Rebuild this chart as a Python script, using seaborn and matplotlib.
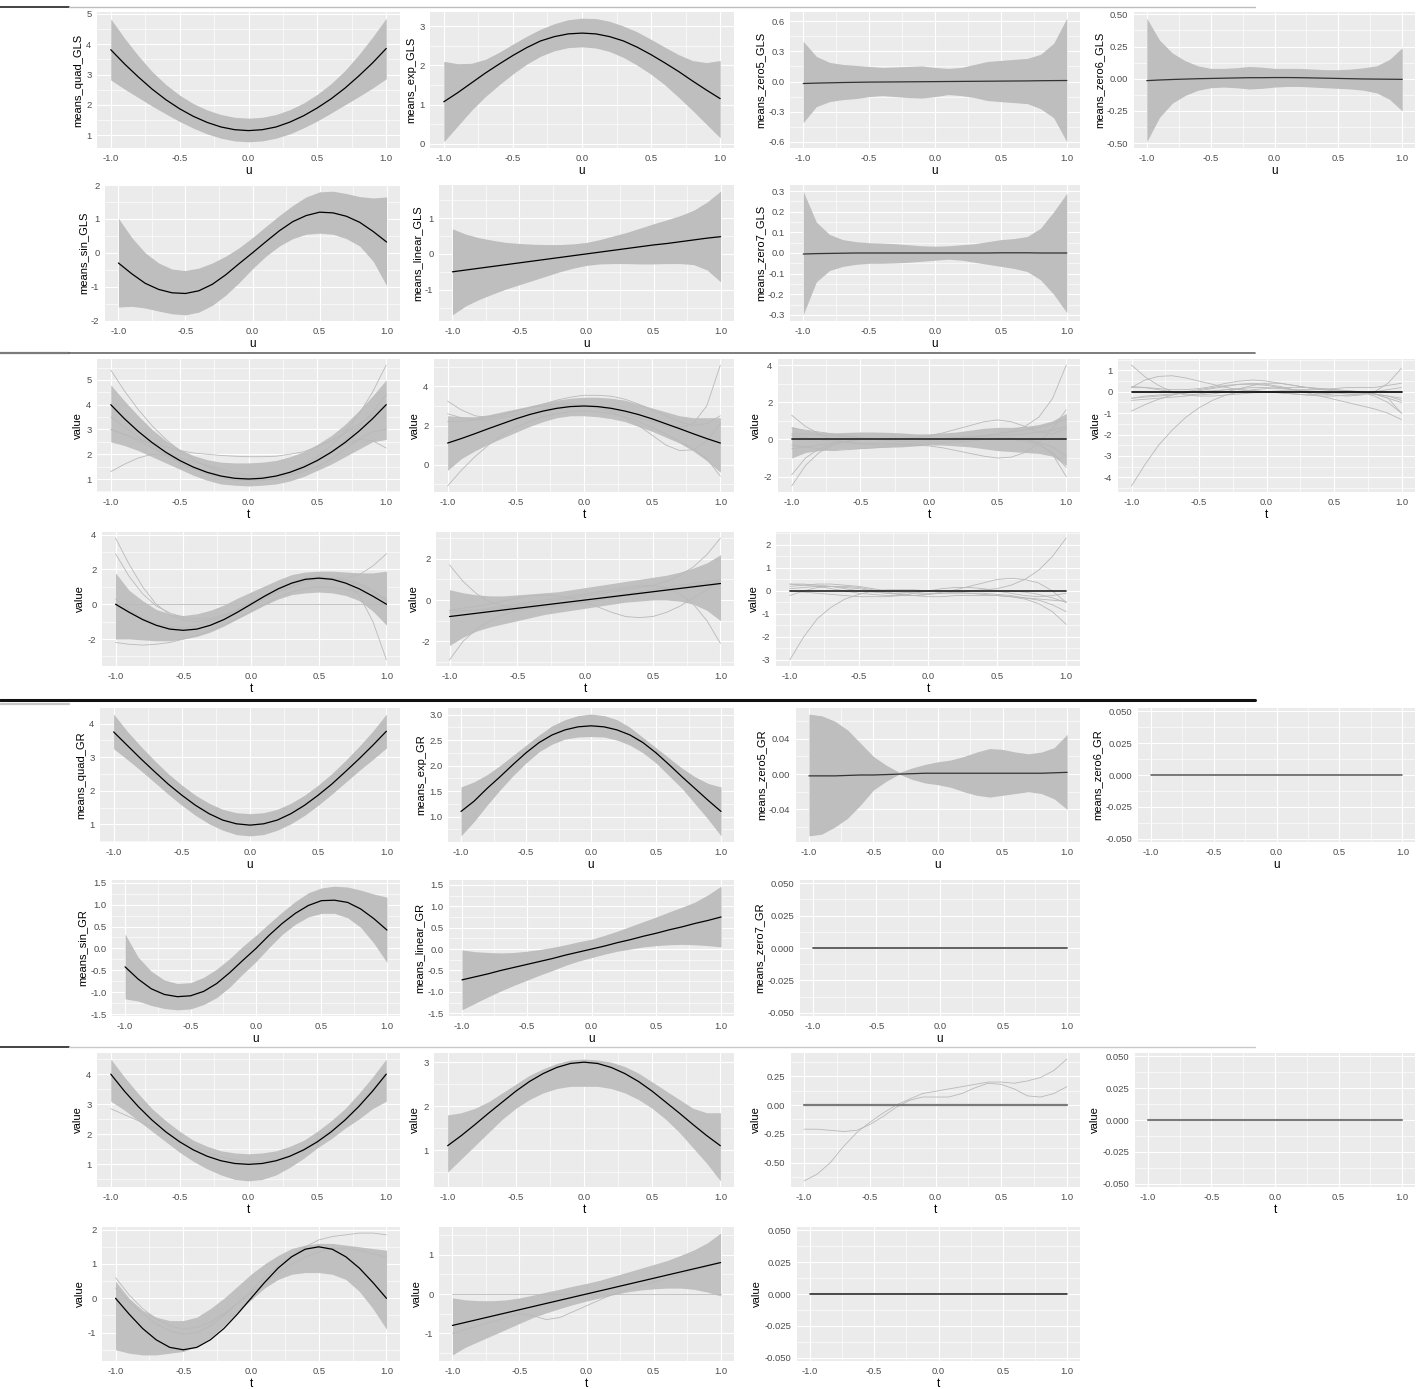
#!/usr/bin/env python3
"""Grid of fitted means (ribbons) and simulated curves, GLS vs GR."""

import numpy as np
import pandas as pd
import matplotlib
matplotlib.use('Agg')
import matplotlib.pyplot as plt
from matplotlib.lines import Line2D
import seaborn as sns

sns.set_theme(style='darkgrid')
plt.rcParams['font.family'] = ['Liberation Sans', 'DejaVu Sans']

W, H = 1417, 1389

# common grid on [-1, 1]
U = [-1.0, -0.9, -0.8, -0.7, -0.6, -0.5, -0.4, -0.3, -0.2, -0.1, 0.0,
     0.1, 0.2, 0.3, 0.4, 0.5, 0.6, 0.7, 0.8, 0.9, 1.0]
x_ticks = [-1.0, -0.5, 0.0, 0.5, 1.0]
x_labels = ['-1.0', '-0.5', '0.0', '0.5', '1.0']

# ---------------- block 1: GLS means with bands ----------------
quad_gls_mean = [3.82, 3.35, 2.92, 2.52, 2.17, 1.87, 1.62, 1.42, 1.27, 1.18, 1.15, 1.18, 1.27, 1.43, 1.64, 1.90, 2.20, 2.55, 2.95, 3.38, 3.86]
quad_gls_hi = [4.84, 4.20, 3.62, 3.10, 2.67, 2.32, 2.04, 1.83, 1.68, 1.59, 1.56, 1.59, 1.68, 1.84, 2.06, 2.35, 2.70, 3.13, 3.65, 4.23, 4.86]
quad_gls_lo = [2.82, 2.52, 2.24, 1.96, 1.70, 1.45, 1.23, 1.04, 0.90, 0.81, 0.78, 0.81, 0.90, 1.04, 1.24, 1.47, 1.73, 2.00, 2.27, 2.55, 2.86]

exp_gls_mean = [1.07, 1.30, 1.55, 1.80, 2.03, 2.25, 2.45, 2.62, 2.73, 2.80, 2.82, 2.80, 2.73, 2.62, 2.46, 2.27, 2.06, 1.84, 1.60, 1.37, 1.15]
exp_gls_hi = [2.10, 2.04, 2.05, 2.15, 2.33, 2.54, 2.74, 2.92, 3.06, 3.16, 3.20, 3.19, 3.12, 3.00, 2.85, 2.66, 2.46, 2.27, 2.12, 2.07, 2.12]
exp_gls_lo = [0.05, 0.45, 0.85, 1.20, 1.50, 1.78, 2.03, 2.23, 2.37, 2.45, 2.47, 2.44, 2.35, 2.20, 2.00, 1.77, 1.50, 1.18, 0.85, 0.50, 0.15]

zero5_gls_mean = [-0.020, -0.016, -0.013, -0.010, -0.008, -0.006, -0.005, -0.004, -0.003, -0.002, -0.001, 0.0, 0.001, 0.002, 0.003, 0.004, 0.005, 0.006, 0.008, 0.009, 0.010]
zero5_gls_hi = [0.40, 0.25, 0.19, 0.17, 0.16, 0.15, 0.14, 0.145, 0.15, 0.155, 0.14, 0.13, 0.14, 0.17, 0.20, 0.21, 0.22, 0.23, 0.27, 0.38, 0.63]
zero5_gls_lo = [-0.41, -0.25, -0.20, -0.18, -0.17, -0.15, -0.14, -0.15, -0.16, -0.165, -0.15, -0.13, -0.14, -0.16, -0.19, -0.20, -0.21, -0.22, -0.27, -0.36, -0.60]

zero6_gls_mean = [-0.015, -0.010, -0.006, -0.003, 0.0, 0.002, 0.004, 0.006, 0.008, 0.008, 0.009, 0.009, 0.008, 0.006, 0.004, 0.002, 0.0, -0.002, -0.003, -0.004, -0.005]
zero6_gls_hi = [0.47, 0.30, 0.20, 0.14, 0.10, 0.08, 0.08, 0.085, 0.095, 0.09, 0.08, 0.08, 0.08, 0.075, 0.07, 0.07, 0.075, 0.085, 0.10, 0.15, 0.24]
zero6_gls_lo = [-0.49, -0.30, -0.19, -0.13, -0.09, -0.07, -0.065, -0.07, -0.08, -0.075, -0.065, -0.06, -0.06, -0.065, -0.07, -0.075, -0.08, -0.09, -0.11, -0.16, -0.25]

sin_gls_mean = [-0.30, -0.62, -0.90, -1.08, -1.18, -1.20, -1.12, -0.93, -0.65, -0.32, 0.0, 0.33, 0.65, 0.92, 1.10, 1.20, 1.18, 1.08, 0.90, 0.63, 0.32]
sin_gls_hi = [1.02, 0.45, 0.0, -0.30, -0.48, -0.52, -0.45, -0.30, -0.10, 0.15, 0.45, 0.78, 1.10, 1.40, 1.65, 1.80, 1.82, 1.75, 1.66, 1.62, 1.65]
sin_gls_lo = [-1.60, -1.58, -1.63, -1.72, -1.80, -1.83, -1.75, -1.55, -1.25, -0.88, -0.47, -0.10, 0.20, 0.42, 0.55, 0.58, 0.55, 0.42, 0.20, -0.25, -0.97]

linear_gls_mean = [-0.50, -0.45, -0.40, -0.35, -0.30, -0.25, -0.20, -0.15, -0.10, -0.05, 0.0, 0.05, 0.10, 0.15, 0.20, 0.25, 0.29, 0.34, 0.39, 0.44, 0.48]
linear_gls_hi = [0.70, 0.55, 0.45, 0.38, 0.32, 0.29, 0.27, 0.26, 0.26, 0.28, 0.32, 0.40, 0.50, 0.60, 0.72, 0.84, 0.95, 1.07, 1.22, 1.45, 1.75]
linear_gls_lo = [-1.70, -1.45, -1.27, -1.12, -0.98, -0.86, -0.74, -0.62, -0.50, -0.40, -0.32, -0.28, -0.27, -0.27, -0.28, -0.28, -0.27, -0.27, -0.30, -0.45, -0.78]

zero7_gls_mean = [-0.005, -0.003, -0.002, -0.001, 0.0, 0.0, 0.0, 0.0, 0.0, 0.0, 0.0, 0.0, 0.0, 0.0, 0.0, 0.001, 0.001, 0.001, 0.0, 0.0, 0.0]
zero7_gls_hi = [0.30, 0.15, 0.09, 0.065, 0.055, 0.05, 0.048, 0.045, 0.04, 0.035, 0.033, 0.035, 0.04, 0.045, 0.055, 0.065, 0.07, 0.08, 0.12, 0.20, 0.29]
zero7_gls_lo = [-0.30, -0.14, -0.085, -0.065, -0.055, -0.05, -0.05, -0.048, -0.045, -0.04, -0.035, -0.03, -0.035, -0.045, -0.055, -0.065, -0.075, -0.09, -0.13, -0.20, -0.29]

# ---------------- true curves (simulation blocks) ----------------
quad_true = [4.00, 3.43, 2.92, 2.47, 2.08, 1.75, 1.48, 1.27, 1.12, 1.03, 1.00, 1.03, 1.12, 1.27, 1.48, 1.75, 2.08, 2.47, 2.92, 3.43, 4.00]
exp_true = [1.10, 1.33, 1.58, 1.84, 2.09, 2.34, 2.56, 2.74, 2.88, 2.97, 3.00, 2.97, 2.88, 2.74, 2.56, 2.34, 2.09, 1.84, 1.58, 1.33, 1.10]
sin_true = [0.0, -0.46, -0.88, -1.21, -1.43, -1.50, -1.43, -1.21, -0.88, -0.46, 0.0, 0.46, 0.88, 1.21, 1.43, 1.50, 1.43, 1.21, 0.88, 0.46, 0.0]
linear_true = [-0.80, -0.72, -0.64, -0.56, -0.48, -0.40, -0.32, -0.24, -0.16, -0.08, 0.0, 0.08, 0.16, 0.24, 0.32, 0.40, 0.48, 0.56, 0.64, 0.72, 0.80]
zero_true = [0.0, 0.0, 0.0, 0.0, 0.0, 0.0, 0.0, 0.0, 0.0, 0.0, 0.0, 0.0, 0.0, 0.0, 0.0, 0.0, 0.0, 0.0, 0.0, 0.0, 0.0]

# ---------------- block 2: GLS simulated curves ----------------
quad_gls_band_hi = [4.80, 4.15, 3.55, 3.00, 2.55, 2.20, 1.95, 1.78, 1.68, 1.65, 1.65, 1.68, 1.75, 1.90, 2.10, 2.40, 2.75, 3.20, 3.75, 4.35, 5.00]
quad_gls_band_lo = [2.50, 2.35, 2.15, 1.90, 1.65, 1.40, 1.15, 0.95, 0.80, 0.75, 0.72, 0.75, 0.80, 0.92, 1.10, 1.35, 1.60, 1.90, 2.20, 2.50, 2.60]
quad_gls_paths = [
    [5.40, 4.55, 3.80, 3.15, 2.60, 2.15, 1.80, 1.50, 1.30, 1.15, 1.05, 1.05, 1.10, 1.25, 1.45, 1.75, 2.10, 2.55, 3.10, 3.70, 4.40],
    [1.30, 1.60, 1.85, 2.00, 1.95, 1.85, 1.70, 1.55, 1.40, 1.25, 1.15, 1.10, 1.10, 1.15, 1.30, 1.50, 1.80, 2.20, 2.60, 2.90, 3.00],
    [3.00, 2.80, 2.55, 2.25, 1.95, 1.65, 1.40, 1.20, 1.05, 0.95, 0.95, 1.00, 1.10, 1.30, 1.55, 1.90, 2.35, 2.90, 3.60, 4.50, 5.60],
    [3.50, 3.10, 2.70, 2.35, 2.00, 1.70, 1.45, 1.25, 1.10, 1.00, 0.95, 0.95, 1.00, 1.15, 1.40, 1.70, 2.05, 2.40, 2.60, 2.55, 2.25],
    [3.00, 2.80, 2.60, 2.45, 2.30, 2.15, 2.05, 2.00, 1.95, 1.92, 1.90, 1.90, 1.92, 2.00, 2.10, 2.30, 2.55, 2.85, 3.20, 3.60, 4.00],
]

exp_gls_band_hi = [2.50, 2.45, 2.45, 2.55, 2.70, 2.85, 3.00, 3.15, 3.30, 3.40, 3.45, 3.45, 3.40, 3.30, 3.10, 2.90, 2.70, 2.50, 2.40, 2.40, 2.40]
exp_gls_band_lo = [-0.30, 0.30, 0.70, 1.05, 1.35, 1.65, 1.95, 2.20, 2.40, 2.50, 2.50, 2.45, 2.35, 2.20, 1.95, 1.70, 1.40, 1.10, 0.70, 0.20, -0.40]
exp_gls_paths = [
    [2.20, 2.20, 2.30, 2.45, 2.60, 2.75, 2.90, 3.00, 3.10, 3.10, 3.05, 2.95, 2.80, 2.60, 2.40, 2.20, 2.00, 1.90, 2.10, 3.00, 5.10],
    [2.60, 2.40, 2.30, 2.30, 2.40, 2.55, 2.70, 2.85, 2.95, 3.00, 3.00, 2.90, 2.70, 2.40, 2.00, 1.50, 1.00, 0.72, 0.75, 1.20, 2.10],
    [-1.10, -0.30, 0.40, 1.00, 1.50, 1.90, 2.20, 2.45, 2.60, 2.70, 2.75, 2.70, 2.60, 2.45, 2.20, 1.90, 1.55, 1.20, 0.80, 0.30, -0.60],
    [3.25, 2.80, 2.50, 2.40, 2.50, 2.70, 2.90, 3.10, 3.30, 3.45, 3.55, 3.55, 3.50, 3.35, 3.10, 2.80, 2.50, 2.20, 2.00, 2.10, 2.50],
]

zero5_gls_band_hi = [0.70, 0.50, 0.40, 0.35, 0.38, 0.40, 0.40, 0.38, 0.35, 0.30, 0.30, 0.35, 0.40, 0.50, 0.60, 0.65, 0.65, 0.70, 0.80, 1.00, 1.40]
zero5_gls_band_lo = [-1.00, -0.70, -0.60, -0.55, -0.50, -0.48, -0.45, -0.42, -0.40, -0.35, -0.30, -0.30, -0.35, -0.40, -0.50, -0.60, -0.65, -0.70, -0.75, -0.90, -1.40]
zero5_gls_paths = [
    [0.30, 0.30, 0.25, 0.20, 0.15, 0.10, 0.05, 0.0, 0.0, 0.0, 0.0, 0.05, 0.10, 0.15, 0.20, 0.30, 0.45, 0.70, 1.20, 2.20, 4.00],
    [-2.50, -1.40, -0.70, -0.30, -0.10, 0.0, 0.05, 0.05, 0.05, 0.0, 0.0, 0.0, 0.05, 0.10, 0.15, 0.20, 0.25, 0.30, 0.40, 0.50, 0.70],
    [1.30, 0.70, 0.30, 0.0, -0.15, -0.25, -0.30, -0.30, -0.25, -0.20, -0.15, -0.10, -0.05, 0.0, 0.05, 0.10, 0.10, 0.0, -0.20, -0.80, -2.00],
    [-0.50, -0.40, -0.30, -0.20, -0.10, 0.0, 0.0, 0.0, 0.05, 0.10, 0.20, 0.35, 0.55, 0.75, 0.95, 1.05, 0.95, 0.70, 0.40, 0.30, 0.60],
    [0.20, 0.10, 0.0, -0.10, -0.15, -0.20, -0.20, -0.20, -0.25, -0.30, -0.35, -0.45, -0.60, -0.75, -0.90, -1.00, -0.95, -0.70, -0.20, 0.60, 1.60],
    [-1.90, -1.00, -0.50, -0.25, -0.10, 0.0, 0.05, 0.05, 0.0, 0.0, 0.0, 0.0, 0.0, 0.0, 0.05, 0.05, 0.0, -0.10, -0.30, -0.70, -1.50],
    [0.60, 0.50, 0.40, 0.30, 0.20, 0.10, 0.0, -0.05, -0.10, -0.10, -0.05, 0.0, 0.10, 0.15, 0.20, 0.30, 0.40, 0.50, 0.65, 0.85, 1.10],
    [-0.30, -0.40, -0.50, -0.60, -0.55, -0.50, -0.45, -0.40, -0.35, -0.30, -0.25, -0.20, -0.15, -0.10, 0.0, 0.05, 0.05, 0.0, -0.15, -0.40, -0.90],
]

zero6_gls_paths = [
    [-4.40, -3.40, -2.50, -1.80, -1.20, -0.75, -0.40, -0.15, 0.0, 0.10, 0.15, 0.20, 0.20, 0.20, 0.15, 0.10, 0.05, 0.0, -0.10, -0.30, -0.50],
    [1.25, 0.70, 0.30, 0.0, -0.15, -0.20, -0.20, -0.15, -0.10, -0.05, 0.0, 0.05, 0.05, 0.05, 0.0, -0.05, -0.10, -0.10, -0.10, -0.30, -1.00],
    [0.20, 0.55, 0.72, 0.75, 0.65, 0.50, 0.35, 0.20, 0.10, 0.05, 0.0, -0.05, -0.10, -0.15, -0.20, -0.20, -0.15, -0.10, 0.0, 0.10, 0.20],
    [-0.90, -0.60, -0.35, -0.15, 0.0, 0.10, 0.20, 0.30, 0.35, 0.35, 0.30, 0.20, 0.10, 0.0, -0.10, -0.15, -0.20, -0.15, 0.0, 0.40, 1.10],
    [-0.30, -0.25, -0.20, -0.15, -0.05, 0.05, 0.15, 0.25, 0.35, 0.40, 0.35, 0.25, 0.10, -0.05, -0.20, -0.35, -0.50, -0.65, -0.80, -1.00, -1.30],
    [0.20, 0.20, 0.15, 0.10, 0.10, 0.15, 0.25, 0.40, 0.50, 0.55, 0.50, 0.40, 0.30, 0.20, 0.15, 0.10, 0.05, 0.0, -0.10, -0.20, -0.40],
    [-0.40, -0.35, -0.30, -0.25, -0.20, -0.10, 0.0, 0.10, 0.15, 0.20, 0.20, 0.15, 0.10, 0.10, 0.10, 0.15, 0.20, 0.20, 0.20, 0.30, 0.40],
    [-0.30, -0.20, -0.15, -0.10, -0.05, 0.0, 0.05, 0.10, 0.10, 0.05, 0.0, -0.05, -0.10, -0.15, -0.10, -0.05, 0.0, 0.0, -0.20, -0.50, -1.00],
    [0.25, 0.20, 0.10, 0.0, -0.10, -0.15, -0.10, 0.0, 0.15, 0.30, 0.40, 0.40, 0.30, 0.20, 0.10, 0.05, 0.0, -0.05, -0.10, -0.20, -0.30],
]

sin_gls_band_hi = [1.80, 0.80, 0.20, -0.30, -0.55, -0.65, -0.55, -0.35, -0.05, 0.35, 0.70, 1.05, 1.40, 1.70, 1.85, 1.90, 1.90, 1.85, 1.80, 1.80, 1.90]
sin_gls_band_lo = [-2.00, -2.00, -2.05, -2.10, -2.10, -2.00, -1.85, -1.60, -1.25, -0.85, -0.45, -0.05, 0.30, 0.55, 0.65, 0.70, 0.65, 0.50, 0.20, -0.40, -1.20]
sin_gls_paths = [
    [3.80, 2.30, 1.00, 0.0, -0.60, -0.90, -1.00, -0.90, -0.70, -0.40, -0.10, 0.30, 0.70, 1.00, 1.30, 1.50, 1.50, 1.40, 1.20, 0.80, 0.30],
    [2.90, 1.60, 0.60, -0.10, -0.50, -0.75, -0.85, -0.80, -0.60, -0.30, 0.05, 0.40, 0.75, 1.05, 1.30, 1.45, 1.45, 1.35, 1.10, 0.70, 0.20],
    [0.0, -0.50, -0.90, -1.20, -1.40, -1.50, -1.40, -1.20, -0.90, -0.50, 0.0, 0.45, 0.90, 1.25, 1.50, 1.60, 1.50, 1.20, 0.50, -1.00, -3.20],
    [0.30, -0.30, -0.80, -1.10, -1.30, -1.35, -1.25, -1.00, -0.70, -0.30, 0.10, 0.50, 0.90, 1.20, 1.40, 1.50, 1.50, 1.50, 1.70, 2.20, 2.90],
    [-2.20, -2.30, -2.35, -2.30, -2.20, -2.00, -1.80, -1.50, -1.20, -0.80, -0.40, 0.0, 0.40, 0.70, 0.90, 1.00, 0.95, 0.85, 0.70, 0.50, 0.30],
    [0.0, 0.0, 0.0, 0.0, 0.0, 0.0, 0.0, 0.0, 0.0, 0.0, 0.0, 0.0, 0.0, 0.0, 0.0, 0.0, 0.0, 0.0, 0.0, 0.0, 0.0],
]

linear_gls_band_hi = [0.50, 0.35, 0.25, 0.20, 0.20, 0.25, 0.30, 0.35, 0.40, 0.50, 0.60, 0.70, 0.80, 0.90, 1.00, 1.10, 1.20, 1.35, 1.55, 1.80, 2.20]
linear_gls_band_lo = [-2.20, -1.80, -1.50, -1.30, -1.15, -1.00, -0.85, -0.70, -0.60, -0.50, -0.40, -0.30, -0.20, -0.10, -0.05, 0.0, 0.0, -0.05, -0.20, -0.50, -1.00]
linear_gls_paths = [
    [1.70, 0.90, 0.30, -0.10, -0.30, -0.40, -0.40, -0.35, -0.30, -0.20, -0.10, 0.0, 0.10, 0.20, 0.30, 0.40, 0.50, 0.60, 0.70, 0.80, 0.90],
    [-2.90, -2.00, -1.40, -1.00, -0.70, -0.50, -0.40, -0.30, -0.20, -0.10, 0.0, 0.10, 0.20, 0.30, 0.40, 0.50, 0.60, 0.70, 0.80, 0.90, 1.00],
    [-0.50, -0.40, -0.30, -0.20, -0.05, 0.10, 0.20, 0.25, 0.20, 0.10, -0.10, -0.35, -0.60, -0.80, -0.85, -0.80, -0.60, -0.30, 0.10, 0.50, 0.90],
    [-0.50, -0.50, -0.50, -0.45, -0.40, -0.30, -0.20, -0.10, 0.0, 0.10, 0.20, 0.30, 0.40, 0.50, 0.60, 0.70, 0.90, 1.20, 1.60, 2.20, 3.00],
    [-0.60, -0.55, -0.50, -0.40, -0.30, -0.20, -0.10, 0.0, 0.10, 0.20, 0.30, 0.40, 0.50, 0.60, 0.70, 0.70, 0.60, 0.30, -0.20, -1.00, -2.10],
]

zero7_gls_paths = [
    [-3.00, -2.00, -1.20, -0.70, -0.35, -0.15, 0.0, 0.05, 0.05, 0.05, 0.0, 0.0, 0.0, 0.0, 0.0, 0.0, 0.0, -0.05, -0.15, -0.30, -0.50],
    [0.30, 0.25, 0.20, 0.10, 0.0, -0.10, -0.15, -0.20, -0.20, -0.20, -0.15, -0.10, -0.05, 0.0, 0.05, 0.10, 0.25, 0.50, 0.90, 1.50, 2.30],
    [0.10, 0.15, 0.20, 0.20, 0.15, 0.10, 0.0, -0.10, -0.15, -0.20, -0.15, -0.05, 0.05, 0.20, 0.35, 0.50, 0.55, 0.50, 0.35, 0.0, -0.50],
    [0.30, 0.30, 0.25, 0.20, 0.10, 0.0, -0.05, -0.10, -0.10, -0.05, 0.0, 0.0, -0.05, -0.10, -0.15, -0.20, -0.25, -0.35, -0.55, -0.90, -1.45],
    [0.20, 0.25, 0.30, 0.30, 0.25, 0.20, 0.10, 0.0, -0.05, -0.10, -0.10, -0.10, -0.10, -0.10, -0.10, -0.15, -0.20, -0.30, -0.40, -0.60, -0.90],
    [-0.20, 0.0, 0.15, 0.20, 0.20, 0.15, 0.05, -0.05, -0.15, -0.20, -0.25, -0.25, -0.20, -0.20, -0.20, -0.20, -0.25, -0.30, -0.35, -0.40, -0.45],
    [0.0, -0.05, -0.10, -0.15, -0.20, -0.25, -0.25, -0.25, -0.20, -0.10, 0.0, 0.10, 0.15, 0.15, 0.10, 0.0, -0.10, -0.20, -0.25, -0.20, -0.10],
]

# ---------------- block 3: GR means with bands ----------------
quad_gr_mean = [3.75, 3.35, 2.95, 2.57, 2.20, 1.87, 1.57, 1.32, 1.13, 1.02, 0.98, 1.02, 1.13, 1.32, 1.57, 1.87, 2.20, 2.57, 2.95, 3.35, 3.77]
quad_gr_hi = [4.28, 3.77, 3.32, 2.90, 2.51, 2.17, 1.87, 1.63, 1.45, 1.35, 1.32, 1.35, 1.45, 1.63, 1.87, 2.17, 2.51, 2.90, 3.32, 3.77, 4.28]
quad_gr_lo = [3.25, 2.93, 2.60, 2.25, 1.90, 1.57, 1.27, 1.02, 0.83, 0.70, 0.66, 0.70, 0.83, 1.02, 1.27, 1.57, 1.90, 2.25, 2.60, 2.93, 3.27]

exp_gr_mean = [1.10, 1.30, 1.55, 1.78, 2.02, 2.25, 2.45, 2.60, 2.70, 2.76, 2.78, 2.76, 2.70, 2.60, 2.45, 2.25, 2.02, 1.78, 1.55, 1.32, 1.10]
exp_gr_hi = [1.58, 1.68, 1.82, 2.00, 2.20, 2.40, 2.60, 2.78, 2.90, 2.98, 3.01, 2.98, 2.90, 2.75, 2.55, 2.35, 2.15, 1.95, 1.78, 1.65, 1.58]
exp_gr_lo = [0.62, 0.90, 1.22, 1.52, 1.80, 2.05, 2.27, 2.42, 2.52, 2.56, 2.57, 2.56, 2.50, 2.40, 2.25, 2.05, 1.80, 1.55, 1.25, 0.95, 0.62]

zero5_gr_mean = [-0.002, -0.002, -0.002, -0.0015, -0.001, -0.001, -0.0005, 0.0, 0.0005, 0.001, 0.001, 0.001, 0.001, 0.001, 0.001, 0.001, 0.001, 0.001, 0.001, 0.0015, 0.002]
zero5_gr_hi = [0.068, 0.066, 0.060, 0.050, 0.035, 0.020, 0.010, 0.002, 0.007, 0.011, 0.014, 0.016, 0.020, 0.025, 0.029, 0.028, 0.025, 0.023, 0.025, 0.030, 0.045]
zero5_gr_lo = [-0.070, -0.068, -0.060, -0.050, -0.035, -0.018, -0.008, 0.0, -0.006, -0.010, -0.012, -0.015, -0.020, -0.024, -0.026, -0.024, -0.022, -0.020, -0.022, -0.028, -0.040]

sin_gr_mean = [-0.42, -0.70, -0.92, -1.05, -1.10, -1.08, -0.98, -0.80, -0.55, -0.27, 0.0, 0.30, 0.57, 0.80, 0.98, 1.09, 1.10, 1.05, 0.90, 0.68, 0.42]
sin_gr_hi = [0.33, -0.20, -0.52, -0.72, -0.80, -0.78, -0.66, -0.47, -0.23, 0.05, 0.30, 0.57, 0.83, 1.07, 1.27, 1.38, 1.42, 1.40, 1.33, 1.24, 1.17]
sin_gr_lo = [-1.15, -1.20, -1.30, -1.37, -1.40, -1.38, -1.28, -1.12, -0.88, -0.58, -0.30, 0.02, 0.32, 0.55, 0.72, 0.80, 0.80, 0.70, 0.48, 0.12, -0.32]

linear_gr_mean = [-0.72, -0.65, -0.58, -0.50, -0.43, -0.36, -0.29, -0.22, -0.14, -0.07, 0.0, 0.07, 0.15, 0.22, 0.30, 0.37, 0.45, 0.52, 0.60, 0.67, 0.75]
linear_gr_hi = [-0.02, -0.06, -0.08, -0.09, -0.08, -0.05, -0.01, 0.04, 0.10, 0.17, 0.23, 0.32, 0.42, 0.53, 0.64, 0.75, 0.87, 0.98, 1.10, 1.27, 1.47]
linear_gr_lo = [-1.42, -1.27, -1.12, -0.98, -0.85, -0.73, -0.61, -0.50, -0.38, -0.28, -0.20, -0.12, -0.05, 0.0, 0.05, 0.08, 0.10, 0.11, 0.10, 0.08, 0.05]

# ---------------- block 4: GR simulated curves ----------------
quad_gr_band_hi = [4.50, 3.90, 3.35, 2.85, 2.45, 2.10, 1.80, 1.60, 1.45, 1.38, 1.35, 1.38, 1.45, 1.60, 1.80, 2.10, 2.45, 2.85, 3.35, 3.90, 4.50]
quad_gr_band_lo = [3.10, 2.80, 2.45, 2.10, 1.75, 1.40, 1.10, 0.85, 0.65, 0.50, 0.45, 0.50, 0.65, 0.90, 1.20, 1.55, 1.85, 2.20, 2.50, 2.85, 3.10]
quad_gr_paths = [
    [2.85, 2.65, 2.45, 2.25, 2.05, 1.80, 1.60, 1.40, 1.25, 1.15, 1.10, 1.10, 1.15, 1.30, 1.50, 1.80, 2.15, 2.55, 3.00, 3.50, 4.00],
]

exp_gr_band_hi = [1.80, 1.85, 1.95, 2.10, 2.30, 2.50, 2.70, 2.85, 2.97, 3.05, 3.07, 3.05, 3.00, 2.90, 2.75, 2.55, 2.35, 2.15, 1.95, 1.85, 1.85]
exp_gr_band_lo = [0.50, 0.80, 1.10, 1.40, 1.70, 1.95, 2.15, 2.30, 2.40, 2.45, 2.45, 2.45, 2.40, 2.30, 2.15, 1.95, 1.70, 1.40, 1.05, 0.70, 0.30]

zero5_gr_paths = [
    [-0.21, -0.21, -0.22, -0.23, -0.22, -0.17, -0.10, -0.02, 0.04, 0.07, 0.07, 0.07, 0.10, 0.15, 0.19, 0.18, 0.14, 0.08, 0.07, 0.10, 0.16],
    [-0.66, -0.60, -0.50, -0.36, -0.24, -0.15, -0.07, 0.0, 0.05, 0.10, 0.12, 0.14, 0.16, 0.18, 0.20, 0.20, 0.19, 0.21, 0.24, 0.30, 0.40],
]

sin_gr_band_hi = [0.50, 0.0, -0.35, -0.55, -0.65, -0.65, -0.55, -0.30, 0.0, 0.35, 0.70, 1.00, 1.25, 1.45, 1.55, 1.60, 1.60, 1.55, 1.50, 1.45, 1.40]
sin_gr_band_lo = [-1.50, -1.60, -1.65, -1.65, -1.60, -1.55, -1.40, -1.15, -0.80, -0.40, -0.05, 0.30, 0.55, 0.70, 0.75, 0.75, 0.70, 0.55, 0.20, -0.30, -0.90]
sin_gr_paths = [
    [0.30, -0.10, -0.45, -0.75, -0.95, -1.05, -1.00, -0.80, -0.50, -0.15, 0.20, 0.60, 0.95, 1.25, 1.50, 1.70, 1.80, 1.85, 1.90, 1.90, 1.85],
    [0.60, 0.10, -0.30, -0.60, -0.80, -0.90, -0.85, -0.70, -0.45, -0.15, 0.15, 0.45, 0.75, 1.00, 1.20, 1.35, 1.45, 1.45, 1.40, 1.30, 1.20],
]

linear_gr_band_hi = [-0.10, -0.15, -0.17, -0.17, -0.15, -0.10, -0.03, 0.05, 0.12, 0.20, 0.27, 0.35, 0.45, 0.55, 0.65, 0.75, 0.85, 0.98, 1.12, 1.30, 1.55]
linear_gr_band_lo = [-1.55, -1.35, -1.20, -1.05, -0.90, -0.75, -0.60, -0.48, -0.37, -0.27, -0.18, -0.10, -0.02, 0.05, 0.10, 0.13, 0.15, 0.15, 0.12, 0.05, -0.05]
linear_gr_paths = [
    [0.0, 0.0, 0.0, 0.0, 0.0, 0.0, 0.0, 0.0, 0.0, 0.0, 0.0, 0.0, 0.0, 0.0, 0.0, 0.0, 0.0, 0.0, 0.0, 0.0, 0.0],
    [-1.00, -0.90, -0.80, -0.70, -0.60, -0.50, -0.55, -0.65, -0.60, -0.45, -0.30, -0.15, 0.0, 0.10, 0.20, 0.30, 0.40, 0.50, 0.60, 0.70, 0.80],
]

# y tick values per panel
yt_quad_gls = [1, 2, 3, 4, 5]
yt_exp_gls = [0, 1, 2, 3]
yt_zero5_gls = [-0.6, -0.3, 0.0, 0.3, 0.6]
yt_zero6_gls = [-0.5, -0.25, 0.0, 0.25, 0.5]
yt_sin_gls = [-2, -1, 0, 1, 2]
yt_linear_gls = [-1, 0, 1]
yt_zero7_gls = [-0.3, -0.2, -0.1, 0.0, 0.1, 0.2, 0.3]
yt_sim_quad = [1, 2, 3, 4, 5]
yt_sim_exp = [0, 2, 4]
yt_sim_zero5 = [-2, 0, 2, 4]
yt_sim_zero6 = [-4, -3, -2, -1, 0, 1]
yt_sim_sin = [-2, 0, 2, 4]
yt_sim_linear = [-2, 0, 2]
yt_sim_zero7 = [-3, -2, -1, 0, 1, 2]
yt_quad_gr = [1, 2, 3, 4]
yt_exp_gr = [1.0, 1.5, 2.0, 2.5, 3.0]
yt_zero5_gr = [-0.04, 0.0, 0.04]
yt_flat = [-0.05, -0.025, 0.0, 0.025, 0.05]
yt_halves = [-1.5, -1.0, -0.5, 0.0, 0.5, 1.0, 1.5]
yt_gr_zero5_sim = [-0.5, -0.25, 0.0, 0.25]
yt_gr_exp_sim = [1, 2, 3]
yt_gr_sin_sim = [-1, 0, 1, 2]
yt_gr_linear_sim = [-1, 0, 1]

# ---------------- layout (pixel boxes) ----------------
ROWS = {'b1r1': (12, 148), 'b1r2': (185, 321), 'b2r1': (359, 492), 'b2r2': (532, 666),
        'b3r1': (708, 842), 'b3r2': (880, 1016), 'b4r1': (1053, 1187), 'b4r2': (1227, 1361)}
RIGHT = [400, 734, 1080, 1415]
LEFT = {'b1r1': [97, 430, 790, 1134], 'b1r2': [105, 439, 790],
        'b2r1': [97, 434, 778, 1118], 'b2r2': [102, 436, 776],
        'b3r1': [100, 448, 796, 1138], 'b3r2': [112, 449, 800],
        'b4r1': [97, 434, 791, 1135], 'b4r2': [102, 439, 797]}

RIBBON = '#BEBEBE'
BAND = '#C0C0C0'
PATH = '#B9B9B9'
FLAT = (-0.0525, 0.0525)

fig = plt.figure(figsize=(W / 100, H / 100), dpi=100)


def fmt_ticks(vals, nd):
    return [f'{v:.{nd}f}' for v in vals]


def draw_panel(row, col, xlab, ylab, yticks, nd, mean, lo=None, hi=None,
               paths=None, mean_color='black', mean_lw=0.9, ylim=None):
    top, bot = ROWS[row]
    x0, x1 = LEFT[row][col], RIGHT[col]
    ax = fig.add_axes([x0 / W, 1 - bot / H, (x1 - x0) / W, (bot - top) / H])
    ax.set_facecolor('#EBEBEB')
    allv = [mean]
    if lo is not None:
        fill_col = RIBBON if paths is None else BAND
        ax.fill_between(U, lo, hi, color=fill_col, lw=0, zorder=2)
        allv += [lo, hi]
    if paths:
        rows = [(k, t, v) for k, p in enumerate(paths) for t, v in zip(U, p)]
        df = pd.DataFrame(rows, columns=['id', 't', 'value'])
        sns.lineplot(data=df, x='t', y='value', units='id', estimator=None,
                     color=PATH, linewidth=0.6, ax=ax, legend=False, zorder=3)
        allv += paths
    sns.lineplot(x=U, y=mean, color=mean_color, linewidth=mean_lw, ax=ax, zorder=4)

    if ylim is None:
        vals = np.concatenate([np.asarray(a, float) for a in allv])
        pad = 0.05 * (vals.max() - vals.min())
        ylim = (vals.min() - pad, vals.max() + pad)
    ax.set_xlim(-1.1, 1.1)
    ax.set_ylim(*ylim)

    ax.set_xticks(x_ticks)
    ax.set_xticklabels(x_labels)
    ax.set_xticks([-0.75, -0.25, 0.25, 0.75], minor=True)
    ax.set_yticks(yticks)
    ax.set_yticklabels(fmt_ticks(yticks, nd))
    step = yticks[1] - yticks[0]
    minors = [(a + b) / 2 for a, b in zip(yticks[:-1], yticks[1:])]
    for m in (yticks[0] - step / 2, yticks[-1] + step / 2):
        if ylim[0] < m < ylim[1]:
            minors.append(m)
    ax.set_yticks(minors, minor=True)

    ax.grid(which='major', color='white', linewidth=0.85)
    ax.grid(which='minor', color='white', linewidth=0.45)
    ax.set_axisbelow(True)
    for s in ax.spines.values():
        s.set_visible(False)
    ax.tick_params(which='major', length=2.5, width=0.6, color='#333333',
                   labelsize=6.8, labelcolor='#4D4D4D', pad=1.5)
    ax.tick_params(which='minor', length=0)
    ax.set_xlabel(xlab, fontsize=8.5, labelpad=1.5, color='black')
    ax.set_ylabel(ylab, fontsize=8, labelpad=2, color='black')
    return ax


# block 1
draw_panel('b1r1', 0, 'u', 'means_quad_GLS', yt_quad_gls, 0, quad_gls_mean, quad_gls_lo, quad_gls_hi)
draw_panel('b1r1', 1, 'u', 'means_exp_GLS', yt_exp_gls, 0, exp_gls_mean, exp_gls_lo, exp_gls_hi)
draw_panel('b1r1', 2, 'u', 'means_zero5_GLS', yt_zero5_gls, 1, zero5_gls_mean, zero5_gls_lo, zero5_gls_hi, mean_color='#333333')
draw_panel('b1r1', 3, 'u', 'means_zero6_GLS', yt_zero6_gls, 2, zero6_gls_mean, zero6_gls_lo, zero6_gls_hi, mean_color='#333333')
draw_panel('b1r2', 0, 'u', 'means_sin_GLS', yt_sin_gls, 0, sin_gls_mean, sin_gls_lo, sin_gls_hi)
draw_panel('b1r2', 1, 'u', 'means_linear_GLS', yt_linear_gls, 0, linear_gls_mean, linear_gls_lo, linear_gls_hi)
draw_panel('b1r2', 2, 'u', 'means_zero7_GLS', yt_zero7_gls, 1, zero7_gls_mean, zero7_gls_lo, zero7_gls_hi, mean_color='#333333')

# block 2
draw_panel('b2r1', 0, 't', 'value', yt_sim_quad, 0, quad_true, quad_gls_band_lo, quad_gls_band_hi, quad_gls_paths)
draw_panel('b2r1', 1, 't', 'value', yt_sim_exp, 0, exp_true, exp_gls_band_lo, exp_gls_band_hi, exp_gls_paths)
draw_panel('b2r1', 2, 't', 'value', yt_sim_zero5, 0, zero_true, zero5_gls_band_lo, zero5_gls_band_hi, zero5_gls_paths, mean_color='#333333', mean_lw=1.3)
draw_panel('b2r1', 3, 't', 'value', yt_sim_zero6, 0, zero_true, paths=zero6_gls_paths, mean_lw=1.2)
draw_panel('b2r2', 0, 't', 'value', yt_sim_sin, 0, sin_true, sin_gls_band_lo, sin_gls_band_hi, sin_gls_paths)
draw_panel('b2r2', 1, 't', 'value', yt_sim_linear, 0, linear_true, linear_gls_band_lo, linear_gls_band_hi, linear_gls_paths)
draw_panel('b2r2', 2, 't', 'value', yt_sim_zero7, 0, zero_true, paths=zero7_gls_paths, mean_color='#222222', mean_lw=1.2)

# block 3
draw_panel('b3r1', 0, 'u', 'means_quad_GR', yt_quad_gr, 0, quad_gr_mean, quad_gr_lo, quad_gr_hi)
draw_panel('b3r1', 1, 'u', 'means_exp_GR', yt_exp_gr, 1, exp_gr_mean, exp_gr_lo, exp_gr_hi)
draw_panel('b3r1', 2, 'u', 'means_zero5_GR', yt_zero5_gr, 2, zero5_gr_mean, zero5_gr_lo, zero5_gr_hi, mean_color='#333333')
draw_panel('b3r1', 3, 'u', 'means_zero6_GR', yt_flat, 3, zero_true, mean_color='#555555', mean_lw=1.1, ylim=FLAT)
draw_panel('b3r2', 0, 'u', 'means_sin_GR', yt_halves, 1, sin_gr_mean, sin_gr_lo, sin_gr_hi)
draw_panel('b3r2', 1, 'u', 'means_linear_GR', yt_halves, 1, linear_gr_mean, linear_gr_lo, linear_gr_hi)
draw_panel('b3r2', 2, 'u', 'means_zero7_GR', yt_flat, 3, zero_true, mean_color='#555555', mean_lw=1.3, ylim=FLAT)

# block 4
draw_panel('b4r1', 0, 't', 'value', yt_quad_gr, 0, quad_true, quad_gr_band_lo, quad_gr_band_hi, quad_gr_paths)
draw_panel('b4r1', 1, 't', 'value', yt_gr_exp_sim, 0, exp_true, exp_gr_band_lo, exp_gr_band_hi, [])
draw_panel('b4r1', 2, 't', 'value', yt_gr_zero5_sim, 2, zero_true, paths=zero5_gr_paths, mean_color='#7A7A7A', mean_lw=1.6)
draw_panel('b4r1', 3, 't', 'value', yt_flat, 3, zero_true, mean_color='#7A7A7A', mean_lw=1.5, ylim=FLAT)
draw_panel('b4r2', 0, 't', 'value', yt_gr_sin_sim, 0, sin_true, sin_gr_band_lo, sin_gr_band_hi, sin_gr_paths)
draw_panel('b4r2', 1, 't', 'value', yt_gr_linear_sim, 0, linear_true, linear_gr_band_lo, linear_gr_band_hi, linear_gr_paths)
draw_panel('b4r2', 2, 't', 'value', yt_flat, 3, zero_true, mean_color='#1A1A1A', mean_lw=1.1, ylim=FLAT)


# separator rules between the four pasted blocks
def hline(y, x0, x1, color, lw):
    fig.add_artist(Line2D([x0 / W, x1 / W], [1 - y / H, 1 - y / H],
                          transform=fig.transFigure, color=color, linewidth=lw))


hline(7, 0, 69, '#222222', 1.2)
hline(7, 69, 1255, '#BDBDBD', 1.0)
hline(353, 0, 69, '#7A7A7A', 1.6)
hline(353, 69, 1255, '#666666', 1.2)
hline(704, 0, 69, '#C8C8C8', 1.6)
hline(700, 0, 1255, '#111111', 2.2)
hline(1047, 0, 69, '#222222', 1.2)
hline(1047, 69, 1255, '#C8C8C8', 1.0)

fig.savefig('out.png', dpi=100)
print('saved out.png')
